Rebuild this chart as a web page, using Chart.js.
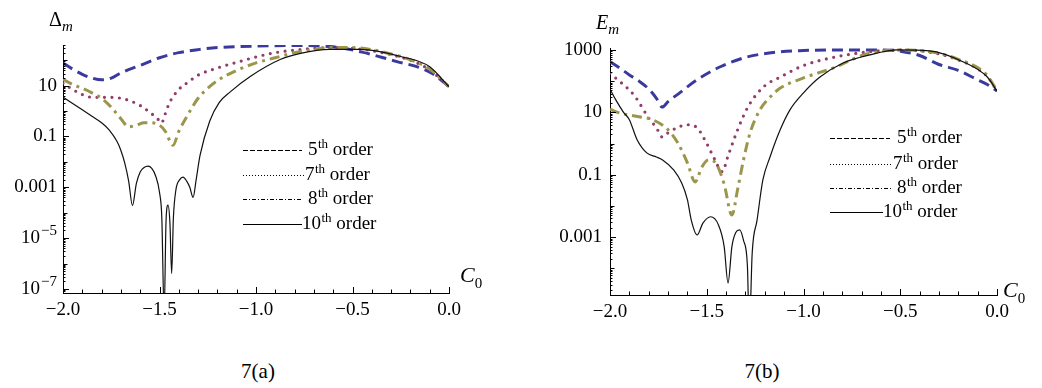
<!DOCTYPE html>
<html>
<head>
<meta charset="utf-8">
<script src="https://cdn.jsdelivr.net/npm/chart.js@4.4.1/dist/chart.umd.min.js"></script>
<style>
  html, body { margin: 0; padding: 0; background: #fff; }
  #page { position: relative; width: 1042px; height: 388px; overflow: hidden;
          font-family: "Liberation Serif", "Times New Roman", serif; color: #000; }
  canvas { position: absolute; top: 0; }
  #chartA { left: 0; }
  #chartB { left: 520px; }
  .lbl { position: absolute; white-space: nowrap; line-height: 1; }
  .ttl { font-size: 20px; }
  .ttl sub { font-size: 15px; font-style: italic; vertical-align: baseline; position: relative; top: 5px; }
  .ttl i { font-style: italic; }
  .c0 { font-size: 22px; }
  .c0 i { font-style: italic; }
  .c0 sub { font-size: 15px; vertical-align: baseline; position: relative; top: 6px; }
  .cap { font-size: 21px; transform: translateX(-50%); }
</style>
</head>
<body>
<div id="page">
  <canvas id="chartA" width="520" height="330"></canvas>
  <canvas id="chartB" width="522" height="330"></canvas>
  <div class="lbl ttl" style="left:49px; top:9px">Δ<sub>m</sub></div>
  <div class="lbl ttl" style="left:596px; top:12px"><i>E</i><sub>m</sub></div>
  <div class="lbl c0" style="left:460px; top:264px"><i>C</i><sub>0</sub></div>
  <div class="lbl c0" style="left:1003px; top:279px"><i>C</i><sub>0</sub></div>
  <div class="lbl cap" style="left:258px; top:361px">7(a)</div>
  <div class="lbl cap" style="left:762px; top:361px">7(b)</div>
</div>
<script>
const SERIF = '"Liberation Serif", "Times New Roman", serif';
Chart.defaults.font.family = SERIF;
Chart.defaults.color = "#000";

// shared axis ticks
const xTickVals = [-2, -1.5, -1, -0.5, 0];
const xTickLabels = ["\u22122.0", "\u22121.5", "\u22121.0", "\u22120.5", "0.0"];
const orders = ["5", "7", "8", "10"];

// 7(a): Delta_m
const aYTickVals = [1e-7, 1e-5, 1e-3, 0.1, 10];
const aYTickLabels = ["10^\u22127", "10^\u22125", "0.001", "0.1", "10"];

const aC5 = [-2.0, -1.95, -1.9, -1.85, -1.8, -1.75, -1.7, -1.6, -1.5, -1.4, -1.3, -1.2, -1.0, -0.8, -0.65, -0.55, -0.45, -0.35, -0.27, -0.15, -0.08, 0.0];
const aD5 = [79, 45, 28, 20, 17, 20, 32, 63, 126, 200, 263, 316, 363, 380, 363, 300, 209, 132, 89, 51, 28, 9.1];

const aC7 = [-2.0, -1.95, -1.9, -1.85, -1.8, -1.75, -1.7, -1.65, -1.6, -1.55, -1.51, -1.49, -1.47, -1.45, -1.4, -1.35, -1.3, -1.2, -1.1, -1.0, -0.9, -0.8, -0.7, -0.6, -0.5, -0.4, -0.3, -0.2, -0.1, 0.0];
const aD7 = [12.6, 7.1, 4.5, 3.5, 3.5, 3.5, 3.2, 2.5, 1.66, 0.89, 0.5, 0.34, 0.79, 2.0, 7.1, 14.1, 26, 50, 83, 135, 200, 251, 295, 316, 295, 240, 166, 100, 42, 9.1];

const aC8 = [-2.0, -1.95, -1.9, -1.85, -1.8, -1.75, -1.7, -1.66, -1.62, -1.58, -1.55, -1.5, -1.47, -1.43, -1.4, -1.35, -1.3, -1.25, -1.2, -1.1, -1.0, -0.9, -0.8, -0.7, -0.6, -0.5, -0.4, -0.3, -0.2, -0.1, 0.0];
const aD8 = [17.8, 11.2, 7.9, 5.2, 3.2, 1.41, 0.5, 0.24, 0.28, 0.35, 0.35, 0.28, 0.16, 0.045, 0.16, 0.79, 3.2, 7.9, 15.8, 40, 79, 126, 200, 269, 316, 316, 263, 178, 105, 45, 9.1];

const aC10 = [-2.0, -1.95, -1.9, -1.85, -1.8, -1.76, -1.72, -1.7, -1.68, -1.66, -1.64, -1.62, -1.6, -1.58, -1.56, -1.54, -1.52, -1.5, -1.488, -1.476, -1.466, -1.456, -1.446, -1.437, -1.428, -1.415, -1.395, -1.378, -1.36, -1.343, -1.326, -1.31, -1.29, -1.24, -1.19, -1.135, -1.03, -0.875, -0.77, -0.62, -0.46, -0.25, -0.1, 0.0];
const aD10 = [3.6, 2.0, 1.12, 0.63, 0.35, 0.18, 0.063, 0.028, 0.0089, 0.0018, 1.9e-4, 0.0014, 0.004, 0.006, 0.0068, 0.0056, 0.0028, 6.3e-4, 6.3e-5, 1e-8, 5e-5, 2e-4, 4e-5, 4e-7, 6.3e-5, 7.9e-4, 0.002, 0.0025, 0.0018, 0.001, 4e-4, 0.002, 0.018, 0.4, 2.2, 5.6, 23, 107, 186, 269, 269, 141, 56, 9.1];

// 7(b): E_m
const bYTickVals = [1e-3, 0.1, 10, 1000];
const bYTickLabels = ["0.001", "0.1", "10", "1000"];

const bC5 = [-2.0, -1.95, -1.9, -1.85, -1.8, -1.76, -1.73, -1.7, -1.64, -1.55, -1.43, -1.3, -1.12, -1.0, -0.8, -0.6, -0.5, -0.4, -0.3, -0.2, -0.1, -0.05, 0.0];
const bE5 = [417, 263, 158, 100, 56, 28, 14.8, 22, 42, 110, 288, 575, 871, 955, 1000, 1000, 912, 661, 340, 220, 110, 78, 48];

const bC7 = [-2.0, -1.96, -1.9, -1.87, -1.8, -1.76, -1.73, -1.7, -1.65, -1.6, -1.55, -1.5, -1.46, -1.42, -1.39, -1.36, -1.32, -1.28, -1.2, -1.12, -1.0, -0.83, -0.66, -0.5, -0.4, -0.3, -0.2, -0.1, -0.05, 0.0];
const bE7 = [178, 110, 52, 32, 6.6, 3.2, 1.62, 2.2, 3.3, 4.0, 3.2, 1.0, 0.32, 0.126, 0.4, 1.32, 5.6, 17.8, 71, 135, 316, 603, 871, 1000, 933, 741, 479, 251, 141, 48];

const bC8 = [-2.0, -1.95, -1.85, -1.78, -1.7, -1.65, -1.6, -1.56, -1.525, -1.49, -1.45, -1.41, -1.37, -1.34, -1.31, -1.276, -1.225, -1.17, -1.12, -1.0, -0.83, -0.69, -0.57, -0.5, -0.4, -0.3, -0.2, -0.1, -0.05, 0.0];
const bE8 = [12.6, 9.5, 7.2, 5.8, 2.75, 1.05, 0.24, 0.059, 0.178, 0.30, 0.22, 0.05, 0.0051, 0.035, 0.30, 2.2, 12, 32, 60, 126, 288, 692, 955, 1000, 950, 780, 500, 270, 150, 48];

const bC10 = [-2.0, -1.97, -1.93, -1.9, -1.86, -1.81, -1.76, -1.73, -1.67, -1.63, -1.6, -1.58, -1.55, -1.52, -1.48, -1.44, -1.41, -1.39, -1.37, -1.35, -1.33, -1.31, -1.29, -1.28, -1.265, -1.24, -1.21, -1.173, -1.12, -1.07, -1.0, -0.915, -0.795, -0.656, -0.517, -0.35, -0.176, -0.05, 0.0];
const bE10 = [56, 25, 10, 5.8, 1.32, 0.5, 0.37, 0.3, 0.14, 0.055, 0.016, 0.0035, 0.00117, 0.0028, 0.0045, 0.0025, 5e-4, 3.4e-5, 5e-4, 0.0014, 0.0017, 7.9e-4, 1.26e-4, 1e-6, 3.2e-4, 0.0035, 0.068, 0.37, 2.8, 12, 42, 135, 380, 692, 1000, 933, 417, 135, 48];

// line looks, Mathematica-ish defaults
const STYLE = {
    o5: { color: "rgb(58,58,158)", width: 3, dash: [11, 6], cap: "butt" },
    o7: { color: "rgb(145,60,105)", width: 3.2, dash: [0, 7.5], cap: "round" },
    o8: { color: "rgb(155,150,75)", width: 3, dash: [10, 5, 3, 5], cap: "butt" },
    o10: { color: "#111", width: 1.2, dash: [], cap: "butt" },
};
const LEGEND_DASH = [[5, 2], [1, 2], [4, 2, 1, 2], []];

function pts(cs, vs) {
    return cs.map((c, i) => ({ x: c, y: vs[i] }));
}

function dataset(key, cs, vs, order) {
    const s = STYLE[key];
    return {
        data: pts(cs, vs),
        borderColor: s.color,
        borderWidth: s.width,
        borderDash: s.dash,
        borderCapStyle: s.cap,
        pointRadius: 0,
        fill: false,
        cubicInterpolationMode: "monotone",
        order,
    };
}

function drawLegend(ctx, lg) {
    lg.rows.forEach((yRow, i) => {
        ctx.save();
        ctx.strokeStyle = "#000";
        ctx.lineWidth = 1;
        ctx.setLineDash(LEGEND_DASH[i]);
        ctx.beginPath();
        ctx.moveTo(lg.x0, yRow + 0.5);
        ctx.lineTo(lg.x1[i], yRow + 0.5);
        ctx.stroke();
        ctx.restore();

        let x = lg.tx[i];
        ctx.textBaseline = "alphabetic";
        ctx.font = "19px " + SERIF;
        ctx.fillText(orders[i], x, yRow + 5);
        x += ctx.measureText(orders[i]).width + 0.5;
        ctx.font = "13px " + SERIF;
        ctx.fillText("th", x, yRow - 2);
        x += ctx.measureText("th").width;
        ctx.font = "19px " + SERIF;
        ctx.fillText(" order", x, yRow + 5);
    });
}

// inward Mathematica-style ticks, y labels with superscripts, legend
const axisDecor = {
    id: "axisDecor",
    afterDraw(chart, args, opts) {
        const { ctx, chartArea: a } = chart;
        const xs = chart.scales.x, ys = chart.scales.y;
        ctx.save();
        ctx.strokeStyle = "#000";
        ctx.fillStyle = "#000";
        ctx.lineWidth = 1;
        ctx.beginPath();
        for (let i = 0; i <= 20; i++) {
            const px = Math.round(xs.getPixelForValue(-2 + i * 0.1)) + 0.5;
            const len = i % 5 === 0 ? 6 : 3.5;
            ctx.moveTo(px, a.bottom);
            ctx.lineTo(px, a.bottom - len);
        }
        const lo = Math.floor(Math.log10(ys.min)), hi = Math.ceil(Math.log10(ys.max));
        for (let d = lo; d <= hi; d++) {
            for (let m = 1; m <= 9; m++) {
                const v = m * Math.pow(10, d);
                if (v < ys.min || v > ys.max) continue;
                const py = Math.round(ys.getPixelForValue(v)) + 0.5;
                let len = 2.5;
                if (m === 1) {
                    len = opts.yTicks.some(t => Math.abs(Math.log10(t) - d) < 1e-6) ? 6 : 4.5;
                }
                ctx.moveTo(a.left, py);
                ctx.lineTo(a.left + len, py);
            }
        }
        ctx.stroke();

        ctx.textAlign = "left";
        ctx.textBaseline = "middle";
        const right = a.left - opts.labelGap;
        opts.yTicks.forEach((v, i) => {
            const py = ys.getPixelForValue(v);
            const [base, sup] = opts.yLabels[i].split("^");
            ctx.font = "19px " + SERIF;
            const wb = ctx.measureText(base).width;
            let ws = 0;
            if (sup) {
                ctx.font = "15px " + SERIF;
                ws = ctx.measureText(sup).width + 1;
            }
            ctx.font = "19px " + SERIF;
            ctx.fillText(base, right - wb - ws, py);
            if (sup) {
                ctx.font = "15px " + SERIF;
                ctx.fillText(sup, right - ws + 1, py - 7);
            }
        });

        drawLegend(ctx, opts.legend);
        ctx.restore();
    },
};

function buildChart(canvasId, sets, cfg) {
    return new Chart(document.getElementById(canvasId), {
        type: "line",
        data: { datasets: sets },
        options: {
            responsive: false,
            animation: false,
            events: [],
            layout: { padding: cfg.padding },
            scales: {
                x: {
                    type: "linear",
                    min: -2,
                    max: 0,
                    grid: { display: false, drawTicks: false },
                    border: { display: true, color: "#000", width: 1 },
                    ticks: {
                        font: { size: 19, family: SERIF },
                        color: "#000",
                        padding: 6,
                        maxRotation: 0,
                        autoSkip: false,
                        callback: v => xTickLabels[xTickVals.indexOf(v)],
                    },
                    afterBuildTicks: s => { s.ticks = xTickVals.map(v => ({ value: v })); },
                    afterFit: s => { s.height = cfg.xHeight; },
                },
                y: {
                    type: "logarithmic",
                    min: cfg.yMin,
                    max: cfg.yMax,
                    grid: { display: false, drawTicks: false },
                    border: { display: true, color: "#000", width: 1 },
                    ticks: { display: false },
                    afterFit: s => { s.width = cfg.yWidth; },
                },
            },
            plugins: {
                legend: { display: false },
                tooltip: { enabled: false },
                axisDecor: {
                    yTicks: cfg.yTicks,
                    yLabels: cfg.yLabels,
                    labelGap: cfg.labelGap,
                    legend: cfg.legend,
                },
            },
        },
        plugins: [axisDecor],
    });
}

function drawAll() {
    buildChart("chartA", [
        dataset("o5", aC5, aD5, 4),
        dataset("o7", aC7, aD7, 3),
        dataset("o8", aC8, aD8, 2),
        dataset("o10", aC10, aD10, 1),
    ], {
        padding: { left: 0, right: 71, top: 45, bottom: 0 },
        xHeight: 37,
        yWidth: 63,
        yMin: 6.9e-8,
        yMax: 400,
        yTicks: aYTickVals,
        yLabels: aYTickLabels,
        labelGap: 6,
        legend: { x0: 243, x1: [302, 305, 302, 302], tx: [308, 305, 308, 302], rows: [150, 175, 199, 224] },
    });

    buildChart("chartB", [
        dataset("o5", bC5, bE5, 4),
        dataset("o7", bC7, bE7, 3),
        dataset("o8", bC8, bE8, 2),
        dataset("o10", bC10, bE10, 1),
    ], {
        padding: { left: 0, right: 45, top: 48, bottom: 0 },
        xHeight: 35,
        yWidth: 90,
        yMin: 1.4e-5,
        yMax: 1150,
        yTicks: bYTickVals,
        yLabels: bYTickLabels,
        labelGap: 8,
        legend: { x0: 310, x1: [370, 372, 372, 363], tx: [377, 373, 377, 363], rows: [138, 164, 188, 212] },
    });
}

// make sure the serif face is ready before the canvases draw text
Promise.all([
    document.fonts.load('18px "Liberation Serif"'),
    document.fonts.load('italic 18px "Liberation Serif"'),
]).then(drawAll, drawAll);
</script>
</body>
</html>
